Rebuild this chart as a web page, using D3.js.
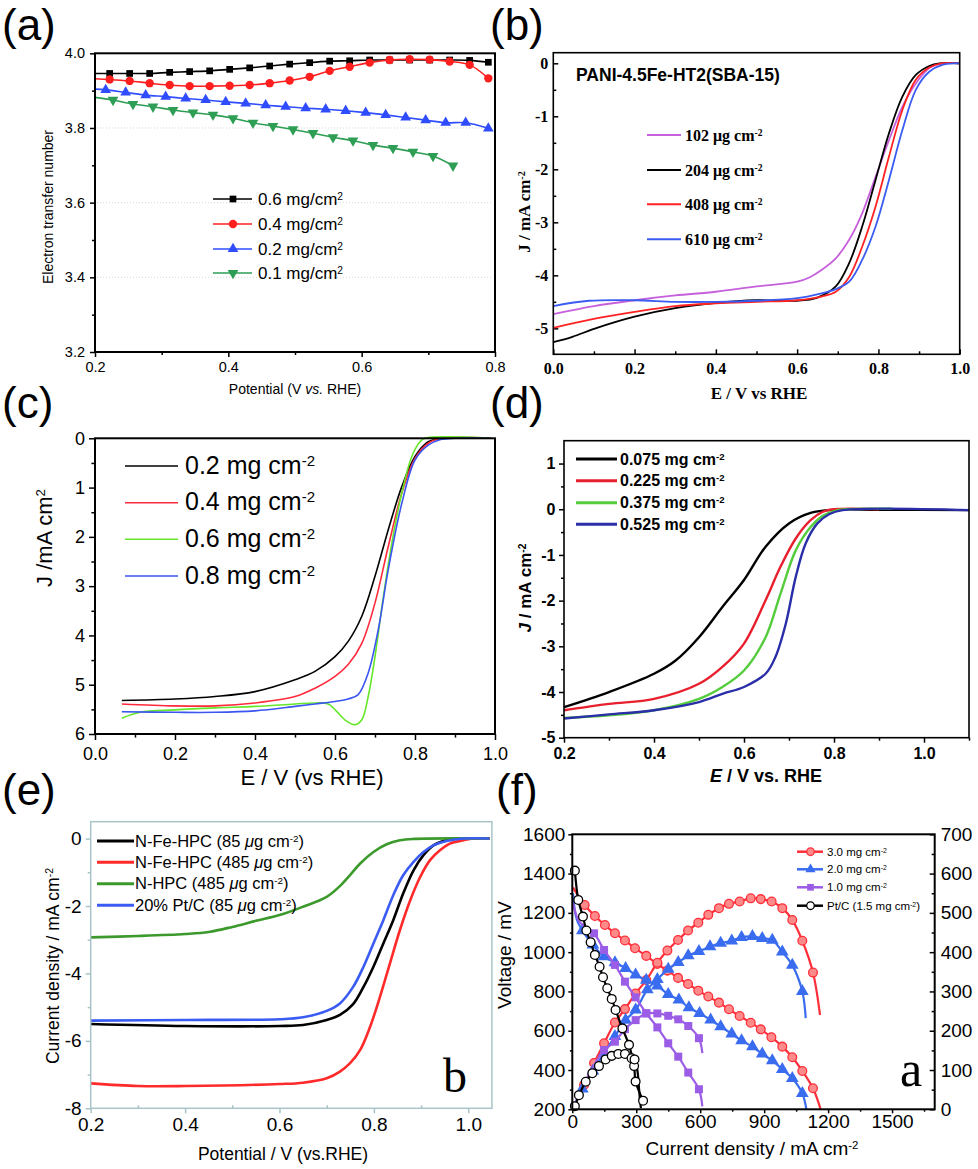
<!DOCTYPE html>
<html>
<head>
<meta charset="utf-8">
<script src="https://cdn.jsdelivr.net/npm/d3@7"></script>
<style>
  body { margin: 0; background: #fff; }
  svg { display: block; }
</style>
</head>
<body>
<script>
// ---- (a) electron transfer number vs potential ----
var aLabels = ["0.6", "0.4", "0.2", "0.1"];
var aBlack = [[0.2,3.946],[0.222,3.946],[0.252,3.946],[0.282,3.946],[0.312,3.949],[0.342,3.951],[0.372,3.953],[0.402,3.957],[0.432,3.961],[0.462,3.966],[0.492,3.971],[0.522,3.975],[0.552,3.979],[0.582,3.980],[0.612,3.982],[0.642,3.982],[0.672,3.982],[0.702,3.982],[0.732,3.982],[0.762,3.981],[0.790,3.976]];
var aRed = [[0.2,3.932],[0.222,3.930],[0.252,3.926],[0.282,3.920],[0.312,3.915],[0.342,3.912],[0.372,3.912],[0.402,3.913],[0.432,3.915],[0.462,3.920],[0.492,3.927],[0.522,3.937],[0.552,3.953],[0.582,3.964],[0.612,3.975],[0.642,3.982],[0.672,3.984],[0.702,3.983],[0.732,3.978],[0.762,3.969],[0.790,3.933]];
var aBlue = [[0.2,3.904],[0.216,3.902],[0.246,3.895],[0.276,3.888],[0.306,3.884],[0.336,3.879],[0.366,3.875],[0.396,3.870],[0.426,3.866],[0.456,3.861],[0.486,3.857],[0.516,3.853],[0.546,3.850],[0.576,3.846],[0.606,3.841],[0.636,3.835],[0.666,3.828],[0.696,3.821],[0.726,3.814],[0.756,3.814],[0.790,3.799]];
var aGreen = [[0.2,3.882],[0.227,3.875],[0.257,3.864],[0.287,3.857],[0.317,3.848],[0.347,3.841],[0.377,3.835],[0.407,3.826],[0.437,3.814],[0.467,3.805],[0.497,3.796],[0.527,3.786],[0.557,3.775],[0.587,3.766],[0.617,3.754],[0.647,3.746],[0.677,3.736],[0.707,3.725],[0.737,3.699]];
var aXTicks = [0.2, 0.4, 0.6, 0.8], aYTicks = [3.2, 3.4, 3.6, 3.8, 4.0];

// ---- (b) PANI-4.5Fe-HT2(SBA-15) ----
var bLabels = ["102", "204", "408", "610"];
var b102 = [[0,-4.73],[0.1,-4.58],[0.2,-4.47],[0.3,-4.38],[0.4,-4.31],[0.5,-4.21],[0.6,-4.12],[0.63,-4.04],[0.66,-3.90],[0.695,-3.68],[0.728,-3.33],[0.76,-2.83],[0.793,-2.14],[0.826,-1.45],[0.859,-0.82],[0.892,-0.38],[0.925,-0.09],[0.95,-0.01],[1.0,0]];
var b204 = [[0,-5.26],[0.047,-5.16],[0.104,-5.0],[0.2,-4.78],[0.3,-4.62],[0.4,-4.52],[0.5,-4.47],[0.6,-4.48],[0.65,-4.42],[0.695,-4.21],[0.728,-3.77],[0.76,-3.08],[0.793,-2.20],[0.826,-1.32],[0.859,-0.63],[0.892,-0.22],[0.925,-0.05],[0.95,0],[1.0,0]];
var b408 = [[0,-4.99],[0.088,-4.84],[0.2,-4.69],[0.3,-4.58],[0.4,-4.53],[0.5,-4.50],[0.6,-4.47],[0.66,-4.40],[0.695,-4.31],[0.728,-4.03],[0.76,-3.46],[0.793,-2.70],[0.826,-1.76],[0.859,-0.88],[0.892,-0.31],[0.925,-0.08],[0.955,0],[1.0,0]];
var b610 = [[0,-4.58],[0.088,-4.48],[0.2,-4.47],[0.3,-4.50],[0.4,-4.50],[0.5,-4.48],[0.6,-4.43],[0.66,-4.34],[0.695,-4.26],[0.728,-4.12],[0.76,-3.71],[0.793,-3.08],[0.826,-2.20],[0.859,-1.26],[0.892,-0.50],[0.925,-0.16],[0.957,-0.03],[0.99,0],[1.0,0]];
var bXTicks = [0, 0.2, 0.4, 0.6, 0.8, 1.0], bYTicks = [-5, -4, -3, -2, -1, 0];

// ---- (c) loading series, inverted current ----
var cLabels = ["0.2", "0.4", "0.6", "0.8"];
var c02 = [[0.067,5.32],[0.2,5.29],[0.3,5.24],[0.4,5.14],[0.5,4.90],[0.55,4.73],[0.6,4.43],[0.633,4.12],[0.667,3.61],[0.7,2.80],[0.733,1.86],[0.767,0.98],[0.8,0.37],[0.833,0.07],[0.86,0.01],[0.99,0]];
var c04 = [[0.067,5.39],[0.2,5.43],[0.3,5.43],[0.4,5.37],[0.5,5.24],[0.55,5.07],[0.6,4.83],[0.633,4.59],[0.667,4.16],[0.7,3.34],[0.733,2.20],[0.767,1.11],[0.8,0.41],[0.833,0.10],[0.865,0],[0.99,0]];
var c06 = [[0.067,5.68],[0.1125,5.56],[0.2,5.51],[0.3,5.47],[0.4,5.44],[0.5,5.39],[0.55,5.37],[0.583,5.39],[0.604,5.54],[0.629,5.74],[0.65,5.81],[0.667,5.71],[0.683,5.24],[0.7,4.43],[0.721,3.21],[0.742,2.13],[0.767,1.11],[0.792,0.37],[0.8125,0.07],[0.825,0],[0.99,0]];
var c08 = [[0.067,5.55],[0.2,5.56],[0.3,5.56],[0.4,5.53],[0.5,5.44],[0.55,5.39],[0.6,5.34],[0.633,5.29],[0.658,5.20],[0.683,4.76],[0.708,3.89],[0.733,2.67],[0.767,1.32],[0.8,0.44],[0.833,0.14],[0.862,0.03],[0.9,0],[0.99,0]];
var cXTicks = [0, 0.2, 0.4, 0.6, 0.8, 1.0], cYTicks = [0, 1, 2, 3, 4, 5, 6];

// ---- (d) loading series ----
var dLabels = ["0.075", "0.225", "0.375", "0.525"];
var d075 = [[0.2,-4.33],[0.3,-4.0],[0.4,-3.60],[0.448,-3.31],[0.5,-2.80],[0.552,-2.14],[0.6,-1.55],[0.648,-0.82],[0.7,-0.31],[0.748,-0.08],[0.8,-0.01],[0.9,-0.01],[1.1,-0.02]];
var d225 = [[0.2,-4.40],[0.3,-4.26],[0.4,-4.15],[0.5,-3.82],[0.552,-3.45],[0.6,-2.94],[0.648,-1.99],[0.681,-1.26],[0.715,-0.64],[0.748,-0.24],[0.774,-0.06],[0.8,0],[0.9,0]];
var d375 = [[0.2,-4.57],[0.3,-4.51],[0.4,-4.40],[0.5,-4.15],[0.552,-3.89],[0.6,-3.53],[0.648,-2.80],[0.681,-1.85],[0.715,-0.90],[0.748,-0.39],[0.774,-0.15],[0.8,-0.04],[0.826,0],[0.93,0.01]];
var d525 = [[0.2,-4.58],[0.3,-4.49],[0.4,-4.40],[0.5,-4.22],[0.552,-4.04],[0.6,-3.89],[0.648,-3.60],[0.67,-3.23],[0.693,-2.50],[0.715,-1.48],[0.737,-0.75],[0.763,-0.31],[0.789,-0.11],[0.819,-0.02],[1.1,-0.02]];
var dXTicks = [0.2, 0.4, 0.6, 0.8, 1.0], dYTicks = [-5, -4, -3, -2, -1, 0, 1];

// ---- (e) N-Fe-HPC vs Pt/C ----
var eNames = ["N-Fe-HPC (85 ", "N-Fe-HPC (485 ", "N-HPC (485 ", "20% Pt/C (85 "];
var eFe85 = [[0.2,-5.50],[0.4,-5.56],[0.6,-5.56],[0.65,-5.53],[0.7,-5.38],[0.728,-5.23],[0.756,-4.91],[0.778,-4.40],[0.799,-3.80],[0.82,-3.11],[0.841,-2.42],[0.862,-1.63],[0.884,-0.94],[0.905,-0.49],[0.926,-0.20],[0.947,-0.07],[0.968,-0.01],[1.045,0]];
var eFe485 = [[0.2,-7.26],[0.3,-7.34],[0.4,-7.34],[0.6,-7.28],[0.65,-7.24],[0.7,-7.11],[0.728,-6.91],[0.749,-6.67],[0.771,-6.27],[0.792,-5.58],[0.813,-4.69],[0.834,-3.70],[0.855,-2.72],[0.877,-1.83],[0.898,-1.14],[0.919,-0.64],[0.94,-0.35],[0.961,-0.15],[0.99,-0.05],[1.01,0],[1.045,0]];
var eHpc485 = [[0.2,-2.93],[0.3,-2.89],[0.4,-2.83],[0.45,-2.77],[0.5,-2.62],[0.55,-2.44],[0.6,-2.27],[0.65,-2.02],[0.7,-1.73],[0.728,-1.41],[0.749,-1.09],[0.771,-0.74],[0.799,-0.40],[0.827,-0.17],[0.855,-0.05],[0.884,-0.01],[1.045,0]];
var ePtC = [[0.2,-5.40],[0.4,-5.38],[0.6,-5.36],[0.65,-5.30],[0.7,-5.11],[0.728,-4.89],[0.756,-4.40],[0.778,-3.80],[0.799,-3.11],[0.82,-2.42],[0.841,-1.68],[0.862,-1.09],[0.884,-0.69],[0.905,-0.40],[0.926,-0.20],[0.954,-0.07],[0.99,0],[1.045,0]];
var eXTicks = [0.2, 0.4, 0.6, 0.8, 1.0], eYTicks = [-8, -6, -4, -2, 0];

// ---- (f) fuel cell polarization (left axis) and power (right axis) ----
var fLabels = ["3.0 mg cm", "2.0 mg cm", "1.0 mg cm", "Pt/C (1.5 mg cm"];
var fRedV = [[3,1330],[58,1240],[106,1184],[153,1138],[200,1096],[247,1059],[294,1020],[347,981],[399,940],[446,906],[496,869],[543,838],[591,804],[638,774],[688,743],[735,709],[785,675],[837,641],[884,607],[934,567],[985,519],[1032,465],[1079,395],[1129,307],[1165,200]];
var fRedP = [[3,3],[55,62],[102,118],[149,168],[200,221],[247,255],[297,295],[347,329],[399,373],[446,404],[496,431],[543,455],[591,475],[638,495],[688,512],[735,523],[785,529],[837,537],[884,535],[935,529],[985,512],[1032,482],[1079,429],[1129,348],[1162,240]];
var fBlueV = [[3,1300],[20,1170],[47,1110],[97,1037],[149,977],[200,947],[250,918],[297,884],[347,858],[399,828],[450,785],[500,757],[547,718],[597,689],[649,655],[696,621],[748,584],[794,550],[845,519],[891,482],[938,448],[985,404],[1032,358],[1079,281],[1098,200]];
var fBlueP = [[3,3],[47,52],[97,98],[149,143],[200,186],[250,227],[297,253],[352,305],[399,331],[450,357],[497,374],[544,391],[594,402],[646,414],[696,423],[748,429],[794,438],[845,440],[891,435],[938,431],[985,401],[1032,367],[1079,300],[1095,232]];
var fPurpleV = [[3,1250],[30,1160],[60,1130],[102,1096],[149,1011],[200,935],[247,850],[297,770],[347,689],[399,617],[450,536],[497,468],[544,387],[594,302],[610,215]];
var fPurpleP = [[3,3],[50,58],[102,112],[149,151],[200,172],[247,204],[297,227],[347,244],[399,244],[450,238],[497,229],[544,212],[594,181],[610,143]];
var fPtV = [[12,1415],[28,1266],[50,1181],[66,1110],[86,1050],[106,986],[128,926],[144,872],[164,816],[185,762],[203,706],[235,612],[266,528],[290,420],[297,341],[332,244]];
var fPtP = [[3,3],[12,8],[31,36],[63,70],[94,92],[125,110],[156,127],[185,136],[216,141],[247,141],[278,130],[292,127],[305,100],[312,60],[318,20],[322,3]];
var fXTicks = [0, 300, 600, 900, 1200, 1500], fVTicks = [200, 400, 600, 800, 1000, 1200, 1400, 1600], fPTicks = [0, 100, 200, 300, 400, 500, 600, 700];

var SANS = "'Liberation Sans', Arial, sans-serif",
    SERIF = "'Liberation Serif', 'Times New Roman', serif";

var svg = d3.select("body").append("svg")
    .attr("width", 978).attr("height", 1169)
    .style("font-family", SANS);

// text with optional superscript / italic pieces
function addText(g, x, y, parts, o) {
  var t = g.append("text").attr("x", x).attr("y", y)
      .attr("font-size", o.size)
      .attr("text-anchor", o.anchor || "start")
      .attr("fill", "#000");
  if (o.bold) t.attr("font-weight", "bold");
  if (o.font) t.attr("font-family", o.font);
  if (o.dy) t.attr("dy", o.dy);
  if (o.rotate) t.attr("transform", "rotate(-90," + x + "," + y + ")");
  parts.forEach(function(p) {
    if (typeof p === "string") { t.append("tspan").text(p); return; }
    var s = t.append("tspan").text(p[0]);
    if (p[1] === "sup") s.attr("baseline-shift", "super").style("font-size", "0.6em");
    if (p[1] === "it") s.style("font-style", "italic");
  });
  return t;
}

function axis(g, side, scale, at, o) {
  var gen = {left: d3.axisLeft, right: d3.axisRight, bottom: d3.axisBottom}[side];
  var tr = side === "bottom" ? "translate(0," + at + ")" : "translate(" + at + ",0)";
  var dir = o.inward ? -1 : 1;
  var col = o.color || "#000";
  if (o.minor) {
    var m = g.append("g").attr("transform", tr)
        .call(gen(scale).tickValues(o.minor).tickSize((o.minorIn ? -1 : dir) * o.len * 0.6).tickFormat(""));
    m.select(".domain").remove();
    m.selectAll("line").attr("stroke", col).attr("stroke-width", o.w || 1.5);
  }
  var a = g.append("g").attr("transform", tr)
      .call(gen(scale).tickValues(o.major).tickSize(dir * o.len).tickPadding(o.pad).tickFormat(o.fmt || String));
  a.select(".domain").remove();
  a.selectAll("line").attr("stroke", col).attr("stroke-width", o.w || 1.5);
  a.selectAll("text").attr("fill", "#000").attr("font-size", o.size)
      .attr("font-family", o.font || SANS).attr("font-weight", o.bold ? "bold" : null);
}

function box(g, x0, y0, x1, y1, color, w) {
  g.append("rect").attr("x", x0).attr("y", y0).attr("width", x1 - x0).attr("height", y1 - y0)
    .attr("fill", "none").attr("stroke", color).attr("stroke-width", w);
}

function curve(g, xs, ys, data, color, width) {
  g.append("path").datum(data)
    .attr("fill", "none").attr("stroke", color).attr("stroke-width", width)
    .attr("stroke-linejoin", "round")
    .attr("d", d3.line().x(function(d) { return xs(d[0]); }).y(function(d) { return ys(d[1]); })
      .curve(d3.curveCatmullRom.alpha(0.5)));
}

function marks(g, xs, ys, data, sym, size, fill, stroke, rot) {
  g.selectAll(null).data(data).enter().append("path")
    .attr("d", d3.symbol().type(sym).size(size))
    .attr("transform", function(d) { return "translate(" + xs(d[0]) + "," + ys(d[1]) + ")" + (rot ? " rotate(180)" : ""); })
    .attr("fill", fill).attr("stroke", stroke || "none").attr("stroke-width", 1.3);
}

var f1 = d3.format(".1f");

// ================= (a) =================
var pa = svg.append("g");
var xA = d3.scaleLinear().domain([0.2, 0.8]).range([95, 495]);
var yA = d3.scaleLinear().domain([3.2, 4.0]).range([352, 53.3]);
pa.selectAll(null).data([3.4, 3.6, 3.8]).enter().append("line")
  .attr("x1", 97).attr("x2", 493).attr("y1", yA).attr("y2", yA)
  .attr("stroke", "#d4d4d4").attr("stroke-dasharray", "1,2");
axis(pa, "left", yA, 95, {major: aYTicks, minor: [3.3, 3.5, 3.7, 3.9], len: 5, pad: 5, size: 14.5, fmt: f1});
axis(pa, "bottom", xA, 352, {major: aXTicks, minor: [0.3, 0.5, 0.7], len: 5, pad: 5, size: 14.5, fmt: f1});
var aSeries = [
  {d: aBlack, c: "#000", s: d3.symbolSquare, z: 45},
  {d: aRed, c: "#ff1f1f", s: d3.symbolCircle, z: 55},
  {d: aBlue, c: "#2f4dff", s: d3.symbolTriangle, z: 50},
  {d: aGreen, c: "#2e9e55", s: d3.symbolTriangle, z: 50, rot: true}
];
aSeries.forEach(function(s, i) {
  curve(pa, xA, yA, s.d, s.c, 1.6);
  marks(pa, xA, yA, s.d.slice(1), s.s, s.z, s.c, null, s.rot);
  var ly = [199, 224, 249, 273][i];
  pa.append("line").attr("x1", 213).attr("x2", 252).attr("y1", ly).attr("y2", ly).attr("stroke", s.c).attr("stroke-width", 1.6);
  marks(pa, function(v) { return v; }, function(v) { return v; }, [[233, ly]], s.s, s.z, s.c, null, s.rot);
  addText(pa, 258, ly, [aLabels[i] + " mg/cm", ["2", "sup"]], {size: 17, dy: "0.35em"});
});
box(pa, 95, 53.3, 495, 352, "#000", 2);
addText(pa, 53, 207, ["Electron transfer number"], {size: 14, anchor: "middle", rotate: true});
addText(pa, 295, 394, ["Potential (V ", ["vs.", "it"], " RHE)"], {size: 14, anchor: "middle"});
addText(pa, 2, 40, ["(a)"], {size: 44});

// ================= (b) =================
var pb = svg.append("g");
var xB = d3.scaleLinear().domain([0, 1]).range([553.3, 959.7]);
var yB = d3.scaleLinear().domain([-5.49, 0.2]).range([354.3, 52.7]);
axis(pb, "left", yB, 553.3, {major: bYTicks, minor: [-4.5, -3.5, -2.5, -1.5, -0.5], inward: true, len: 5, pad: 5, size: 16, bold: true, font: SERIF});
axis(pb, "bottom", xB, 354.3, {major: bXTicks, minor: [0.1, 0.3, 0.5, 0.7, 0.9], inward: true, len: 5, pad: 8, size: 16, bold: true, font: SERIF, fmt: f1});
var bSeries = [{d: b102, c: "#c660dc"}, {d: b204, c: "#000"}, {d: b408, c: "#ff2222"}, {d: b610, c: "#3a5cf0"}];
bSeries.forEach(function(s, i) {
  curve(pb, xB, yB, s.d, s.c, 1.8);
  var ly = [135, 170, 204.3, 239.3][i];
  pb.append("line").attr("x1", 647).attr("x2", 681).attr("y1", ly).attr("y2", ly).attr("stroke", s.c).attr("stroke-width", 2);
  addText(pb, 685, ly, [bLabels[i] + " μg cm", ["-2", "sup"]], {size: 16, bold: true, font: SERIF, dy: "0.35em"});
});
box(pb, 553.3, 52.7, 959.7, 354.3, "#000", 1.6);
addText(pb, 576, 81, ["PANI-4.5Fe-HT2(SBA-15)"], {size: 17.5, bold: true});
addText(pb, 759, 399, ["E / V vs RHE"], {size: 17, bold: true, font: SERIF, anchor: "middle"});
addText(pb, 530, 212, ["J / mA cm", ["-2", "sup"]], {size: 17, bold: true, font: SERIF, anchor: "middle", rotate: true});
addText(pb, 490, 40, ["(b)"], {size: 44});

// ================= (c) =================
var pc = svg.append("g");
var xC = d3.scaleLinear().domain([0, 1]).range([95, 495]);
var yC = d3.scaleLinear().domain([0, 6]).range([438.3, 734]);
axis(pc, "left", yC, 95, {major: cYTicks, minor: [0.5, 1.5, 2.5, 3.5, 4.5, 5.5], len: 6, pad: 4, size: 18});
axis(pc, "bottom", xC, 734, {major: cXTicks, minor: [0.1, 0.3, 0.5, 0.7, 0.9], len: 6, pad: 7, size: 18, fmt: f1});
var cSeries = [{d: c02, c: "#000"}, {d: c04, c: "#ff2a3c"}, {d: c06, c: "#66e62a"}, {d: c08, c: "#3a55f0"}];
cSeries.forEach(function(s, i) {
  curve(pc, xC, yC, s.d, s.c, 1.6);
  var ly = [466, 502.7, 539.3, 576][i];
  pc.append("line").attr("x1", 125).attr("x2", 178).attr("y1", ly).attr("y2", ly).attr("stroke", s.c).attr("stroke-width", 1.6);
  addText(pc, 185, ly, [cLabels[i] + " mg cm", ["-2", "sup"]], {size: 25, dy: "0.3em"});
});
box(pc, 95, 438.3, 495, 734, "#000", 2);
addText(pc, 312, 785, ["E / V (vs RHE)"], {size: 22, anchor: "middle"});
addText(pc, 52, 538, ["J /mA cm", ["2", "sup"]], {size: 22, anchor: "middle", rotate: true});
addText(pc, 2, 418, ["(c)"], {size: 44});

// ================= (d) =================
var pd = svg.append("g");
var xD = d3.scaleLinear().domain([0.2, 1.1]).range([564, 969]);
var yD = d3.scaleLinear().domain([-5, 1.5]).range([737.7, 440.7]);
axis(pd, "left", yD, 564, {major: dYTicks, minor: [-4.5, -3.5, -2.5, -1.5, -0.5, 0.5], len: 5, pad: 3.5, size: 16, bold: true});
axis(pd, "bottom", xD, 737.7, {major: dXTicks, minor: [0.3, 0.5, 0.7, 0.9, 1.1], len: 5, pad: 4.5, size: 16, bold: true, fmt: f1});
var dSeries = [{d: d075, c: "#000"}, {d: d225, c: "#e8202e"}, {d: d375, c: "#55cc3c"}, {d: d525, c: "#2a2ea8"}];
dSeries.forEach(function(s, i) {
  curve(pd, xD, yD, s.d, s.c, 2.4);
  var ly = [459, 480.7, 502.7, 524.3][i];
  pd.append("line").attr("x1", 576).attr("x2", 617).attr("y1", ly).attr("y2", ly).attr("stroke", s.c).attr("stroke-width", 3);
  addText(pd, 620, ly, [dLabels[i] + " mg cm", ["-2", "sup"]], {size: 16, bold: true, dy: "0.35em"});
});
box(pd, 564, 440.7, 969, 737.7, "#000", 1.6);
addText(pd, 766, 782, [["E", "it"], " / V vs. RHE"], {size: 18, bold: true, anchor: "middle"});
addText(pd, 531, 588, [["J", "it"], " / mA cm", ["-2", "sup"]], {size: 17, bold: true, anchor: "middle", rotate: true});
addText(pd, 490, 418, ["(d)"], {size: 44});

// ================= (e) =================
var pe = svg.append("g");
var xE = d3.scaleLinear().domain([0.2, 1.05]).range([90.7, 491.9]);
var yE = d3.scaleLinear().domain([-8, 0.5]).range([1108.3, 821.7]);
var eAxis = "#a9c4c8";
axis(pe, "left", yE, 90.7, {major: eYTicks, minor: [-7, -5, -3, -1], len: 5, pad: 4, size: 19, color: eAxis});
axis(pe, "bottom", xE, 1108.3, {major: eXTicks, minor: [0.3, 0.5, 0.7, 0.9], minorIn: true, len: 5, pad: 4, size: 19, fmt: f1, color: eAxis});
var eSeries = [{d: eFe85, c: "#000"}, {d: eFe485, c: "#ff2a2a"}, {d: eHpc485, c: "#3c9a2c"}, {d: ePtC, c: "#3a5cf2"}];
eSeries.forEach(function(s, i) {
  curve(pe, xE, yE, s.d, s.c, 2.6);
  var ly = [841, 862.3, 883.7, 905.3][i];
  pe.append("line").attr("x1", 97).attr("x2", 134).attr("y1", ly).attr("y2", ly).attr("stroke", s.c).attr("stroke-width", 3);
  addText(pe, 135, ly, [eNames[i], ["μ", "it"], "g cm", ["-2", "sup"], ")"], {size: 16.5, dy: "0.35em"});
});
box(pe, 90.7, 821.7, 491.9, 1108.3, eAxis, 1.5);
addText(pe, 283, 1160, ["Potential / V (vs.RHE)"], {size: 17.5, anchor: "middle"});
addText(pe, 59, 966, ["Current density / mA cm", ["-2", "sup"]], {size: 17.5, anchor: "middle", rotate: true});
addText(pe, 443, 1092, ["b"], {size: 48, font: SERIF});
addText(pe, 2, 805, ["(e)"], {size: 44});

// ================= (f) =================
var pf = svg.append("g");
var xF = d3.scaleLinear().domain([0, 1700]).range([572.3, 934.7]);
var yV = d3.scaleLinear().domain([200, 1600]).range([1109.3, 834.3]);
var yP = d3.scaleLinear().domain([0, 700]).range([1109.3, 834.3]);
axis(pf, "left", yV, 572.3, {major: fVTicks, minor: [300, 500, 700, 900, 1100, 1300, 1500], len: 4, pad: 3, size: 19});
axis(pf, "right", yP, 934.7, {major: fPTicks, minor: [50, 150, 250, 350, 450, 550, 650], inward: true, len: 5, pad: 6, size: 19});
axis(pf, "bottom", xF, 1109.3, {major: fXTicks, minor: [150, 450, 750, 1050, 1350, 1650], len: 4, pad: 1.5, size: 19});
var fSeries = [
  {v: fRedV, p: fRedP, c: "#ff2f3a", s: d3.symbolCircle, z: 60, fill: "#ff8a8a", vm: [1, -1], pm: [1, -1]},
  {v: fBlueV, p: fBlueP, c: "#3a6cf0", s: d3.symbolTriangle, z: 70, fill: "#3a6cf0", vm: [2, -1], pm: [1, -1]},
  {v: fPurpleV, p: fPurpleP, c: "#9b5de5", s: d3.symbolSquare, z: 64, fill: "#9b5de5", vm: [3, -1], pm: [3, -1]},
  {v: fPtV, p: fPtP, c: "#000", s: d3.symbolCircle, z: 60, fill: "#fff", vm: [0, 16], pm: [1, 12]}
];
fSeries.forEach(function(s, i) {
  curve(pf, xF, yV, s.v, s.c, 2.2);
  curve(pf, xF, yP, s.p, s.c, 2.2);
  var st = i === 0 || i === 3 ? s.c : null;
  marks(pf, xF, yV, s.v.slice(s.vm[0], s.vm[1]), s.s, s.z, s.fill, st);
  marks(pf, xF, yP, s.p.slice(s.pm[0], s.pm[1]), s.s, s.z, s.fill, st);
  var ly = [851.7, 869.3, 887.3, 905.7][i];
  pf.append("line").attr("x1", 797).attr("x2", 823).attr("y1", ly).attr("y2", ly).attr("stroke", s.c).attr("stroke-width", 2.5);
  marks(pf, function(v) { return v; }, function(v) { return v; }, [[810.5, ly]], s.s, 45, s.fill, st);
  addText(pf, 827, ly, i === 3 ? [fLabels[i], ["-2", "sup"], ")"] : [fLabels[i], ["-2", "sup"]], {size: 11.5, dy: "0.35em"});
});
box(pf, 572.3, 834.3, 934.7, 1109.3, "#000", 2);
addText(pf, 752, 1155, ["Current density / mA cm", ["-2", "sup"]], {size: 19, anchor: "middle"});
addText(pf, 511, 955, ["Voltage / mV"], {size: 19, anchor: "middle", rotate: true});
addText(pf, 900, 1086, ["a"], {size: 50, font: SERIF});
addText(pf, 496, 805, ["(f)"], {size: 44});
</script>
</body>
</html>
